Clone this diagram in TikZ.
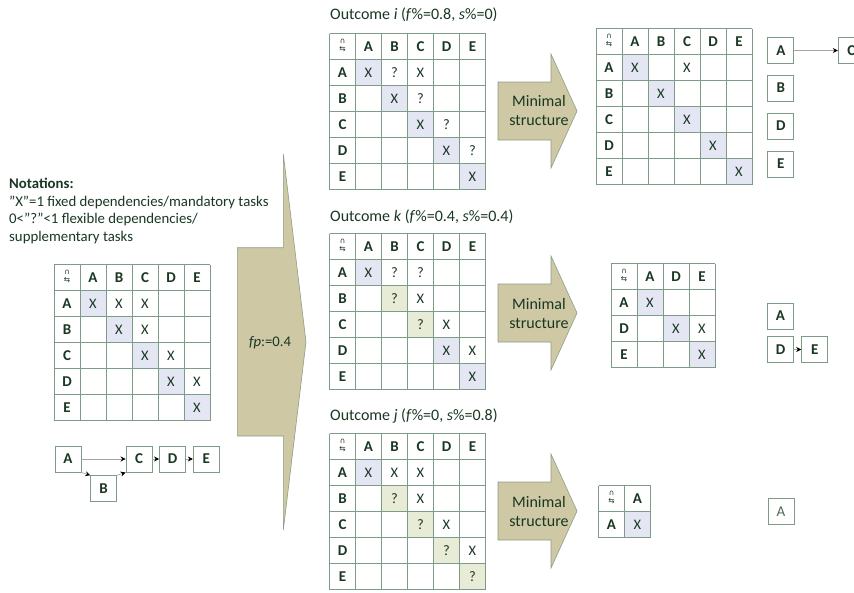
\documentclass[tikz,border=0pt]{standalone}
\usepackage{fontspec}
\setmainfont{Carlito}
\newfontfamily\dejavu{DejaVu Sans}
\usetikzlibrary{arrows.meta}
\definecolor{arrowfill}{RGB}{206,201,164}
\definecolor{arrowline}{RGB}{140,158,135}
\definecolor{gridc}{RGB}{125,155,135}
\definecolor{textc}{RGB}{25,55,35}
\definecolor{cblue}{RGB}{228,230,243}
\definecolor{cgreen}{RGB}{232,235,214}
\tikzset{
  hdr/.style={font=\fontsize{15}{17}\selectfont\bfseries, text=textc, inner sep=0pt},
  entry/.style={font=\fontsize{14.5}{17}\selectfont, text=textc, inner sep=0pt},
  corner/.style={font=\dejavu\fontsize{7.5}{7.5}\selectfont, text=textc, inner sep=0pt, align=center},
  gline/.style={draw=gridc, line width=0.9pt},
  gbox/.style={draw=gridc, fill=white, minimum size=26pt, inner sep=0pt, line width=0.9pt,
    font=\fontsize{15}{17}\selectfont\bfseries, text=textc},
  lbox/.style={draw=gridc, fill=white, minimum size=26pt, inner sep=0pt, line width=0.9pt,
    font=\fontsize{15}{17}\selectfont, text=textc!75},
  conn/.style={draw=gray!70, line width=0.7pt, -{Stealth[length=5pt,width=5pt,color=black]}},
  bigarr/.style={fill=arrowfill, draw=arrowline, line width=0.6pt},
  title/.style={font=\fontsize{16}{18}\selectfont, text=textc, inner sep=0pt, anchor=west},
  msl/.style={font=\fontsize{16}{19}\selectfont, text=textc, align=center, inner sep=0pt}
}
% grid: x0, y0, number of labels, labels, name prefix
\newcommand\mgrid[5]{%
  \pgfmathtruncatemacro\nn{#3+1}%
  \foreach \i in {0,...,\nn} {
    \draw[gline] ({#1+\i*26},{#2}) -- ({#1+\i*26},{#2+\nn*26});
    \draw[gline] ({#1},{#2+\i*26}) -- ({#1+\nn*26},{#2+\i*26});
  }
  \node[corner] (#5corner) at ({#1+13},{#2+12}) {∩\\⇆};
  \foreach \l [count=\k] in {#4} {
    \node[hdr] (#5c\k) at ({#1+\k*26+13},{#2+13}) {\l};
    \node[hdr] (#5r\k) at ({#1+13},{#2+\k*26+13}) {\l};
  }
}
\newcommand\ent[5]{\node[entry] at ({#1+#3*26+13},{#2+#4*26+13}) {#5};}
\newcommand\shd[5]{\fill[#5] ({#1+#3*26},{#2+#4*26}) rectangle ++(26,26);}
\newcommand\minarrow[1]{%
  \draw[bigarr] (498,{#1-29}) -- (551,{#1-29}) -- (551,{#1-57}) -- (577,#1) -- (551,{#1+57}) -- (551,{#1+29}) -- (498,{#1+29}) -- cycle;
  \node[msl] at (539,#1) {Minimal\\structure};
}
\begin{document}
\begin{tikzpicture}[x=1pt,y=-1pt]
\useasboundingbox (0,0) rectangle (854,592);
\clip (0,0) rectangle (854,592);
\fill[white] (0,0) rectangle (854,592);

% Notations
\node[anchor=north west, align=left, inner sep=0pt, text=textc,
  font=\fontsize{14.8}{17.5}\selectfont] (notes) at (9,178)
  {\textbf{Notations:}\\ ”X”=1 fixed dependencies/mandatory tasks\\ 0<”?”<1 flexible dependencies/\\ supplementary tasks};

% Left matrix
\def\xo{54}\def\yo{264.5}
\foreach \k in {1,...,5} {\shd{\xo}{\yo}{\k}{\k}{cblue}}
\mgrid{\xo}{\yo}{5}{A,B,C,D,E}{L}
\ent{\xo}{\yo}{1}{1}{X}\ent{\xo}{\yo}{2}{1}{X}\ent{\xo}{\yo}{3}{1}{X}
\ent{\xo}{\yo}{2}{2}{X}\ent{\xo}{\yo}{3}{2}{X}
\ent{\xo}{\yo}{3}{3}{X}\ent{\xo}{\yo}{4}{3}{X}
\ent{\xo}{\yo}{4}{4}{X}\ent{\xo}{\yo}{5}{4}{X}
\ent{\xo}{\yo}{5}{5}{X}

% Left graph
\node[gbox] (gA) at (68,459) {A};
\node[gbox] (gB) at (103.7,488.7) {B};
\node[gbox] (gC) at (139,459) {C};
\node[gbox] (gD) at (172.5,459) {D};
\node[gbox] (gE) at (206.3,459) {E};
\draw[conn] (gA) -- (gC);
\draw[conn] (gA.south east) -- (gB.north west);
\draw[conn] (gB.north east) -- (gC.south west);
\draw[conn] (gC) -- (gD);
\draw[conn] (gD) -- (gE);

% Big arrow
\draw[bigarr] (237.3,247.7) -- (283.3,247.7) -- (283.3,154) -- (306,342) -- (283.3,530) -- (283.3,436) -- (237.3,436) -- cycle;
\node[font=\fontsize{14.7}{17}\selectfont, text=textc] (fp) at (270,343) {\textit{fp}:=0.4};

% Titles
\node[title] (ti) at (330,15) {Outcome \textit{i} (\textit{f}\%=0.8, \textit{s}\%=0)};
\node[title] (tk) at (330,217) {Outcome \textit{k} (\textit{f}\%=0.4, \textit{s}\%=0.4)};
\node[title] (tj) at (330,416) {Outcome \textit{j} (\textit{f}\%=0, \textit{s}\%=0.8)};

% Top matrix
\def\xo{329.5}\def\yo{33.5}
\foreach \k in {1,...,5} {\shd{\xo}{\yo}{\k}{\k}{cblue}}
\mgrid{\xo}{\yo}{5}{A,B,C,D,E}{T}
\ent{\xo}{\yo}{1}{1}{X}\ent{\xo}{\yo}{2}{1}{?}\ent{\xo}{\yo}{3}{1}{X}
\ent{\xo}{\yo}{2}{2}{X}\ent{\xo}{\yo}{3}{2}{?}
\ent{\xo}{\yo}{3}{3}{X}\ent{\xo}{\yo}{4}{3}{?}
\ent{\xo}{\yo}{4}{4}{X}\ent{\xo}{\yo}{5}{4}{?}
\ent{\xo}{\yo}{5}{5}{X}

% Middle matrix
\def\xo{329.5}\def\yo{233.5}
\shd{\xo}{\yo}{1}{1}{cblue}\shd{\xo}{\yo}{2}{2}{cgreen}\shd{\xo}{\yo}{3}{3}{cgreen}
\shd{\xo}{\yo}{4}{4}{cblue}\shd{\xo}{\yo}{5}{5}{cblue}
\mgrid{\xo}{\yo}{5}{A,B,C,D,E}{M}
\ent{\xo}{\yo}{1}{1}{X}\ent{\xo}{\yo}{2}{1}{?}\ent{\xo}{\yo}{3}{1}{?}
\ent{\xo}{\yo}{2}{2}{?}\ent{\xo}{\yo}{3}{2}{X}
\ent{\xo}{\yo}{3}{3}{?}\ent{\xo}{\yo}{4}{3}{X}
\ent{\xo}{\yo}{4}{4}{X}\ent{\xo}{\yo}{5}{4}{X}
\ent{\xo}{\yo}{5}{5}{X}

% Bottom matrix
\def\xo{329.5}\def\yo{433.5}
\shd{\xo}{\yo}{1}{1}{cblue}\shd{\xo}{\yo}{2}{2}{cgreen}\shd{\xo}{\yo}{3}{3}{cgreen}
\shd{\xo}{\yo}{4}{4}{cgreen}\shd{\xo}{\yo}{5}{5}{cgreen}
\mgrid{\xo}{\yo}{5}{A,B,C,D,E}{B}
\ent{\xo}{\yo}{1}{1}{X}\ent{\xo}{\yo}{2}{1}{X}\ent{\xo}{\yo}{3}{1}{X}
\ent{\xo}{\yo}{2}{2}{?}\ent{\xo}{\yo}{3}{2}{X}
\ent{\xo}{\yo}{3}{3}{?}\ent{\xo}{\yo}{4}{3}{X}
\ent{\xo}{\yo}{4}{4}{?}\ent{\xo}{\yo}{5}{4}{X}
\ent{\xo}{\yo}{5}{5}{?}

% Minimal structure arrows
\minarrow{111}
\minarrow{313}
\minarrow{511}

% Top-right matrix
\def\xo{596}\def\yo{28.5}
\foreach \k in {1,...,5} {\shd{\xo}{\yo}{\k}{\k}{cblue}}
\mgrid{\xo}{\yo}{5}{A,B,C,D,E}{TR}
\ent{\xo}{\yo}{1}{1}{X}\ent{\xo}{\yo}{3}{1}{X}
\ent{\xo}{\yo}{2}{2}{X}\ent{\xo}{\yo}{3}{3}{X}
\ent{\xo}{\yo}{4}{4}{X}\ent{\xo}{\yo}{5}{5}{X}

% Top-right graph
\node[gbox] (tA) at (780.8,50.5) {A};
\node[gbox] (tC) at (851.3,50.5) {C};
\node[gbox] (tB) at (780.8,88) {B};
\node[gbox] (tD) at (780.8,126) {D};
\node[gbox] (tE) at (780.8,164) {E};
\draw[conn] (tA) -- (tC);

% Middle-right matrix
\def\xo{611}\def\yo{263.5}
\foreach \k in {1,...,3} {\shd{\xo}{\yo}{\k}{\k}{cblue}}
\mgrid{\xo}{\yo}{3}{A,D,E}{MR}
\ent{\xo}{\yo}{1}{1}{X}
\ent{\xo}{\yo}{2}{2}{X}\ent{\xo}{\yo}{3}{2}{X}
\ent{\xo}{\yo}{3}{3}{X}

% Middle-right graph
\node[gbox] (mA) at (780.5,316) {A};
\node[gbox] (mD) at (780.5,349.5) {D};
\node[gbox] (mE) at (814.7,349.5) {E};
\draw[conn] (mD) -- (mE);

% Bottom-right matrix
\def\xo{598.5}\def\yo{485.5}
\shd{\xo}{\yo}{1}{1}{cblue}
\mgrid{\xo}{\yo}{1}{A}{BR}
\ent{\xo}{\yo}{1}{1}{X}

% Bottom-right graph
\node[lbox] (bA) at (781,511.3) {A};
\end{tikzpicture}
\end{document}
